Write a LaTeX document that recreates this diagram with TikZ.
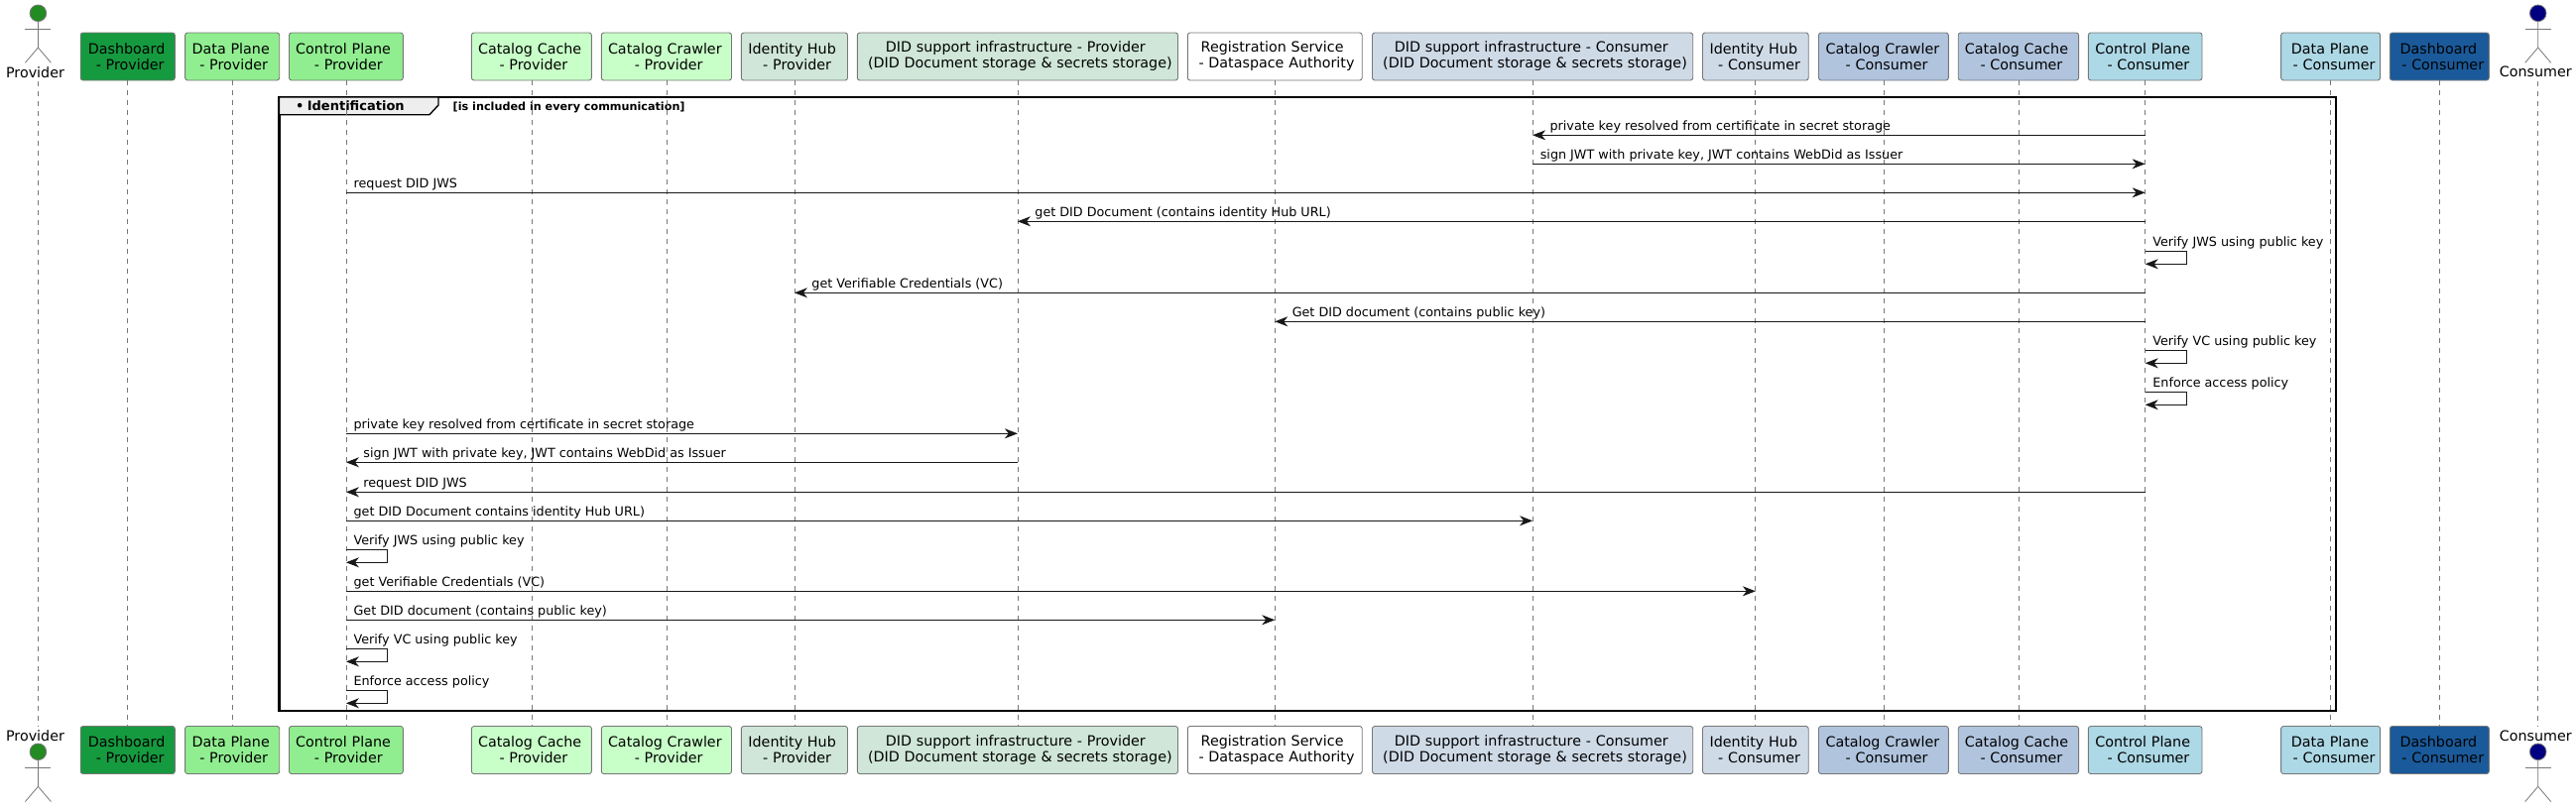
\documentclass[tikz,border=0pt]{standalone}
\usepackage{fontspec}
\setmainfont{DejaVu Sans}
\usetikzlibrary{arrows.meta,calc}
\definecolor{dashP}{HTML}{169A3F}
\definecolor{planeP}{HTML}{90EE90}
\definecolor{catP}{HTML}{C8FFC8}
\definecolor{idP}{HTML}{CFE6D8}
\definecolor{idC}{HTML}{CFDAE7}
\definecolor{catC}{HTML}{B0C4DE}
\definecolor{planeC}{HTML}{ADD8E6}
\definecolor{dashC}{HTML}{1A5A9A}
\definecolor{forest}{HTML}{228B22}
\definecolor{navyC}{HTML}{000080}
\definecolor{lineC}{HTML}{181818}
\definecolor{edgeC}{HTML}{777777}
\definecolor{tabC}{HTML}{EEEEEE}
\tikzset{
  partbox/.style={draw=edgeC,line width=0.9pt,rounded corners=2.5pt,inner sep=0pt,outer sep=0pt,minimum height=48pt,align=left,font=\fontsize{14.3}{16}\selectfont},
  life/.style={draw=edgeC,line width=0.8pt,dash pattern=on 5pt off 5pt},
  msg/.style={draw=lineC,line width=1pt,-{Stealth[length=13pt,width=10pt,inset=4pt]}},
  lbl/.style={inner sep=0pt,outer sep=0pt,font=\fontsize{12.75}{15}\selectfont},
  actlbl/.style={inner sep=0pt,outer sep=0pt,font=\fontsize{14.3}{16}\selectfont},
  actline/.style={draw=edgeC,line width=0.8pt},
  head/.style={circle,draw=edgeC,line width=0.8pt,minimum size=16.6pt,inner sep=0pt,outer sep=0pt},
  grp/.style={draw=black,line width=2.4pt},
  grptab/.style={draw=black,line width=1.4pt,fill=tabC},
  grptitle/.style={inner sep=0pt,outer sep=0pt,font=\fontsize{13}{15}\bfseries\selectfont},
  grpnote/.style={inner sep=0pt,outer sep=0pt,font=\fontsize{11.2}{13}\bfseries\selectfont}
}
\newcommand\pbx[8]{%
  \pgfmathsetmacro\cxx{(#2+#3)/2}\pgfmathsetmacro\wdd{#3-#2}%
  \node[partbox,fill=#4,text width=\wdd pt] (#1) at (\cxx,57) {\hspace*{#5pt}#7\\\hspace*{#6pt}#8};
  \node[partbox,fill=#4,text width=\wdd pt] (#1b) at (\cxx,756.5) {\hspace*{#5pt}#7\\\hspace*{#6pt}#8};
  \draw[life] (#1.south) -- (#1b.north);
}
\newcommand\msgr[5]{%
  \coordinate (m#1) at (0,#4);
  \draw[msg] (#2 |- m#1) -- (#3 |- m#1);
  \node[lbl,anchor=base west] (t#1) at ([xshift=7.7pt,yshift=5pt]#2 |- m#1) {#5};
}
\newcommand\msgl[5]{%
  \coordinate (m#1) at (0,#4);
  \draw[msg] (#2 |- m#1) -- (#3 |- m#1);
  \node[lbl,anchor=base west] (t#1) at ([xshift=17.5pt,yshift=5pt]#3 |- m#1) {#5};
}
\newcommand\msgs[4]{%
  \coordinate (m#1) at (0,#3);
  \draw[msg] (#2 |- m#1) -- ++(42,0) -- ++(0,13) -- ($(#2 |- m#1)+(0,13)$);
  \node[lbl,anchor=base west] (t#1) at ([xshift=7.7pt,yshift=5pt]#2 |- m#1) {#4};
}
\newcommand\actr[7]{% name, x, head y, arms y, crotch y, fill, leg drop
  \node[head,fill=#6] (#1) at (#2,#3) {};
  \coordinate (#1c) at (#2,#5);
  \draw[actline] (#1.south) -- (#1c) -- ++(-13,#7);
  \draw[actline] (#1c) -- ++(13,#7);
  \draw[actline] (#2-13,#4) -- ++(26,0);
}
\begin{document}
\begin{tikzpicture}[x=1pt,y=-1pt]
\useasboundingbox (0,0) rectangle (2597,814);
\draw[grp] (281.3,98) rectangle (2354.7,717);
\draw[grptab] (281.3,98) -- (442,98) -- (442,106) -- (433,115.7) -- (281.3,115.7) -- cycle;
\node[grptitle,anchor=base west] (gtitle) at (298,111.3) {•\kern-1pt\ Identification};
\node[grpnote,anchor=base west] (gnote) at (456.7,111) {[is included in every communication]};
\pbx{dashp}{81.2}{176.3}{dashP}{7.6}{15.6}{Dashboard}{- Provider}
\pbx{datap}{186.6}{281.7}{planeP}{7.1}{14.7}{Data Plane}{- Provider}
\pbx{ctrlp}{291.5}{406.3}{planeP}{6.7}{25.4}{Control Plane}{- Provider}
\pbx{cachep}{475.4}{596.4}{catP}{6.7}{28.1}{Catalog Cache}{- Provider}
\pbx{crawlp}{606.3}{737.5}{catP}{6.7}{33.5}{Catalog Crawler}{- Provider}
\pbx{hubp}{747.3}{854.5}{idP}{7.1}{21.9}{Identity Hub}{- Provider}
\pbx{didp}{864.3}{1187.5}{idP}{28.6}{10.7}{DID support infrastructure - Provider}{(DID Document storage \& secrets storage)}
\pbx{reg}{1197.3}{1373.2}{white}{13.4}{11.2}{Registration Service}{- Dataspace Authority}
\pbx{didc}{1383.5}{1706.7}{idC}{22.3}{10.7}{DID support infrastructure - Consumer}{(DID Document storage \& secrets storage)}
\pbx{hubc}{1716.5}{1823.2}{idC}{7.1}{15.6}{Identity Hub}{- Consumer}
\pbx{crawlc}{1833.5}{1964.3}{catC}{7.1}{27.2}{Catalog Crawler}{- Consumer}
\pbx{cachec}{1974.2}{2095.6}{catC}{6.7}{22.3}{Catalog Cache}{- Consumer}
\pbx{ctrlc}{2105.3}{2220}{planeC}{7.1}{19.2}{Control Plane}{- Consumer}
\pbx{datac}{2299.6}{2399.6}{planeC}{10.3}{12}{Data Plane}{- Consumer}
\pbx{dashc}{2409.3}{2509.3}{dashC}{10.3}{12}{Dashboard}{- Consumer}
% actors
\actr{provh}{38.4}{13.3}{29.3}{48}{forest}{15.3}
\actr{provhb}{38.4}{758.3}{774.3}{793.3}{forest}{15.3}
\actr{consh}{2558.7}{13.3}{29.3}{48}{navyC}{15.3}
\actr{conshb}{2558.7}{758.3}{774.3}{793.3}{navyC}{15.3}
\node[actlbl] (provl) at (35.5,72.7) {Provider};
\node[actlbl] (provlb) at (35.5,742) {Provider};
\node[actlbl] (consl) at (2556.2,72.7) {Consumer};
\node[actlbl] (conslb) at (2556.2,742) {Consumer};
\coordinate (provt) at (38.4,81.5);
\coordinate (provb) at (38.4,733);
\coordinate (const) at (2558.7,81.5);
\coordinate (consb) at (2558.7,733);
\draw[life] (provt) -- (provb);
\draw[life] (const) -- (consb);
% messages
\msgl{1}{ctrlc}{didc}{136.3}{private key resolved from certificate in secret storage}
\msgr{2}{didc}{ctrlc}{165.3}{sign JWT with private key, JWT contains WebDid as Issuer}
\msgr{3}{ctrlp}{ctrlc}{194.3}{request DID JWS}
\msgl{4}{ctrlc}{didp}{223.3}{get DID Document (contains identity Hub URL)}
\msgs{5}{ctrlc}{253.3}{Verify JWS using public key}
\msgl{6}{ctrlc}{hubp}{295.3}{get Verifiable Credentials (VC)}
\msgl{7}{ctrlc}{reg}{324.3}{Get DID document (contains public key)}
\msgs{8}{ctrlc}{353.3}{Verify VC using public key}
\msgs{9}{ctrlc}{395.3}{Enforce access policy}
\msgr{10}{ctrlp}{didp}{437.3}{private key resolved from certificate in secret storage}
\msgl{11}{didp}{ctrlp}{466.3}{sign JWT with private key, JWT contains WebDid as Issuer}
\msgl{12}{ctrlc}{ctrlp}{496.3}{request DID JWS}
\msgr{13}{ctrlp}{didc}{525.3}{get DID Document contains identity Hub URL)}
\msgs{14}{ctrlp}{554.3}{Verify JWS using public key}
\msgr{15}{ctrlp}{hubc}{596.3}{get Verifiable Credentials (VC)}
\msgr{16}{ctrlp}{reg}{625.3}{Get DID document (contains public key)}
\msgs{17}{ctrlp}{654.3}{Verify VC using public key}
\msgs{18}{ctrlp}{696.3}{Enforce access policy}
\end{tikzpicture}
\end{document}
